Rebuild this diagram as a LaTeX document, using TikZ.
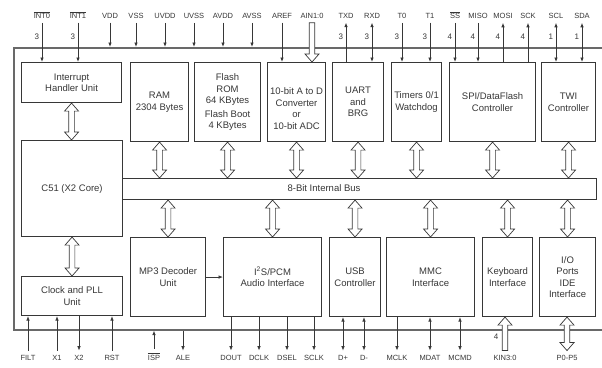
\documentclass[tikz,border=0pt]{standalone}
\usepackage{fontspec}
\setmainfont{Liberation Sans}
\usetikzlibrary{arrows.meta,calc}
\definecolor{ink}{RGB}{55,55,55}
\definecolor{rim}{RGB}{105,105,105}
\tikzset{
  >={Latex[length=4.5pt,width=3.6pt]},
  unit/.style={draw=ink,line width=1.1pt,fill=white,anchor=north west,align=center,
    inner sep=1pt,text=ink,font=\fontsize{9.5}{11.5}\selectfont},
  box size/.style args={#1x#2}{minimum width=#1,minimum height=#2},
  pin/.style={anchor=base,inner sep=1pt,text=ink,font=\fontsize{7.5}{8}\selectfont},
  count/.style={anchor=east,inner sep=0pt,xshift=-2.5pt,text=ink,font=\fontsize{8}{8}\selectfont},
  wire/.style={draw=ink,line width=0.8pt},
  % hollow arrows, head at both ends
  bus link/.style={draw=ink,line width=0.7pt,fill=white,
    to path={let \p1=(\tikztostart),\p2=(\tikztotarget),
      \p3=($(\p1)!8pt!(\p2)$),\p4=($(\p2)!8pt!(\p1)$) in
      (\p1) -- ($(\p3)!7pt!90:(\p2)$) -- ($(\p3)!2.8pt!90:(\p2)$)
      -- ($(\p4)!2.8pt!90:(\p2)$) -- ($(\p4)!7pt!90:(\p2)$) -- (\p2)
      -- ($(\p4)!7pt!-90:(\p2)$) -- ($(\p4)!2.8pt!-90:(\p2)$)
      -- ($(\p3)!2.8pt!-90:(\p2)$) -- ($(\p3)!7pt!-90:(\p2)$) -- cycle}},
  % hollow arrow, head at the target only
  fat arrow/.style={draw=ink,line width=0.7pt,fill=white,
    to path={let \p1=(\tikztostart),\p2=(\tikztotarget),
      \p4=($(\p2)!8pt!(\p1)$) in
      ($(\p1)!2.8pt!90:(\p2)$) -- ($(\p4)!2.8pt!90:(\p2)$) -- ($(\p4)!7pt!90:(\p2)$)
      -- (\p2) -- ($(\p4)!7pt!-90:(\p2)$) -- ($(\p4)!2.8pt!-90:(\p2)$)
      -- ($(\p1)!2.8pt!-90:(\p2)$) -- cycle}},
}
\begin{document}
\begin{tikzpicture}[x=1pt,y=-1pt]
  \useasboundingbox (0,0) rectangle (602,367);
  % chip outline, runs off the right edge
  \node[draw=rim,line width=1.6pt,box size=605x282,anchor=north west] (chip) at (13,47) {};

  % upper row of units
  \node[unit,box size=100x40] (int) at (21,62) {Interrupt\\Handler Unit};
  \node[unit,box size=58x79] (ram) at (130,62) {RAM\\2304 Bytes};
  \node[unit,box size=66x79] (flash) at (194,62) {Flash\\ROM\\64 KBytes\\[2pt]Flash Boot\\4 KBytes};
  \node[unit,box size=58x79] (adc) at (267,62) {\mbox{}\\[8.5pt]10-bit A to D\\Converter\\or\\10-bit ADC};
  \node[unit,box size=51x79] (uart) at (332,62) {UART\\and\\BRG};
  \node[unit,box size=50x79] (tmr) at (391,62) {Timers 0/1\\Watchdog};
  \node[unit,box size=86x79] (spi) at (449,62) {SPI/DataFlash\\Controller};
  \node[unit,box size=54x79] (twi) at (541,62) {TWI\\Controller};

  % core and bus
  \node[unit,box size=101x96] (c51) at (21,140) {C51 (X2 Core)};
  \node[unit,box size=474x21] (bus) at (122,178) {};
  \node[text=ink,font=\fontsize{9.5}{11.5}\selectfont] (buslbl) at (324,188.5) {8-Bit Internal Bus};

  % lower row of units
  \node[unit,box size=101x39] (clk) at (21,276) {Clock and PLL\\Unit};
  \node[unit,box size=75x79] (mp3) at (130,237) {MP3 Decoder\\Unit};
  \node[unit,box size=98x79] (i2s) at (223,237) {I\textsuperscript{2}S/PCM\\Audio Interface};
  \node[unit,box size=51x79] (usb) at (329,237) {USB\\Controller};
  \node[unit,box size=88x79] (mmc) at (386,237) {MMC\\Interface};
  \node[unit,box size=50x79] (kbd) at (482,237) {Keyboard\\Interface};
  \node[unit,box size=56x79] (io) at (539,237) {I/O\\Ports\\IDE\\Interface};

  % internal links
  \draw[bus link] (int.south) to (int.south |- c51.north);
  \draw[bus link] (c51.south) to (c51.south |- clk.north);
  \foreach \b in {ram,flash,adc,uart,tmr,spi,twi}
    \draw[bus link] (\b.south) to (\b.south |- bus.north);
  \foreach \b in {mp3,i2s,usb,mmc,kbd,io}
    \draw[bus link] (\b.north |- bus.south) to (\b.north);
  \draw[wire,->] (mp3.east) -- (i2s.west);

  % pins on top
  \foreach \id/\x/\txt in {int0/42/{$\overline{\mbox{INT0}}$},int1/78/{$\overline{\mbox{INT1}}$},
      vdd/110/VDD,vss/136/VSS,uvdd/165/UVDD,uvss/194/UVSS,avdd/223/AVDD,avss/252/AVSS,
      aref/282/AREF,ain/312/AIN1:0,txd/346/TXD,rxd/372/RXD,tzero/402/T0,tone/430/T1,
      ss/455/{$\overline{\mbox{SS}}$},miso/478/MISO,mosi/503/MOSI,sck/528/SCK,scl/556/SCL,sda/582/SDA}
    \node[pin] (\id) at (\x,18.5) {\txt};
  \foreach \p in {vdd,vss,uvdd,uvss,avdd,avss}
    \draw[wire,->,shorten <=3pt] (\p.south) -- (\p |- chip.north);
  \draw[wire,->,shorten <=3pt] (aref.south) -- (aref |- adc.north);
  \draw[fat arrow] ([yshift=-3pt]ain.south) to (ain |- adc.north);
  \foreach \p/\b/\n in {int0/int/3,int1/int/3,tzero/tmr/3,tone/tmr/3,ss/spi/4,miso/spi/4}
    \draw[wire,->,shorten <=3pt] (\p.south) -- (\p |- \b.north) node[count,pos=0.4] {\n};
  \foreach \p/\b/\n in {txd/uart/3,mosi/spi/4,sck/spi/4}
    \draw[wire,<-,shorten <=3pt] (\p.south) -- (\p |- \b.north) node[count,pos=0.4] {\n};
  \foreach \p/\b/\n in {rxd/uart/3,scl/twi/1,sda/twi/1}
    \draw[wire,<->,shorten <=3pt] (\p.south) -- (\p |- \b.north) node[count,pos=0.4] {\n};

  % pins at the bottom
  \foreach \id/\x/\txt in {filt/28/FILT,xone/57/X1,xtwo/79/X2,rst/112/RST,
      isp/154/{$\overline{\mbox{ISP}}$},ale/183/ALE,dout/231/DOUT,dclk/259/DCLK,dsel/287/DSEL,
      sclk/314/SCLK,dp/343/D+,dm/364/D-,mclk/397/MCLK,mdat/430/MDAT,mcmd/460/MCMD,
      kin/505/KIN3:0,port/567/P0-P5}
    \node[pin] (\id) at (\x,360) {\txt};
  \foreach \p in {filt,xone,rst}
    \draw[wire,->,shorten <=3pt] (\p.north) -- (\p |- clk.south);
  \draw[wire,<-,shorten <=3pt] (xtwo.north) -- (xtwo |- clk.south);
  \draw[wire,->,shorten <=3pt] (isp.north) -- (isp |- chip.south);
  \draw[wire,<-,shorten <=3pt] (ale.north) -- (ale |- chip.south);
  \foreach \p in {dout,dclk,dsel,sclk}
    \draw[wire,<-,shorten <=3pt] (\p.north) -- (\p |- i2s.south);
  \foreach \p in {dp,dm}
    \draw[wire,<->,shorten <=3pt] (\p.north) -- (\p |- usb.south);
  \draw[wire,<-,shorten <=3pt] (mclk.north) -- (mclk |- mmc.south);
  \foreach \p in {mdat,mcmd}
    \draw[wire,<->,shorten <=3pt] (\p.north) -- (\p |- mmc.south);
  \draw[fat arrow] ([yshift=3pt]kin.north) to (kin |- kbd.south);
  \path (kin.north) -- (kin |- kbd.south) node[count,pos=0.45,xshift=-4pt] {4};
  \draw[bus link] ([yshift=3pt]port.north) to (port |- io.south);
\end{tikzpicture}
\end{document}
